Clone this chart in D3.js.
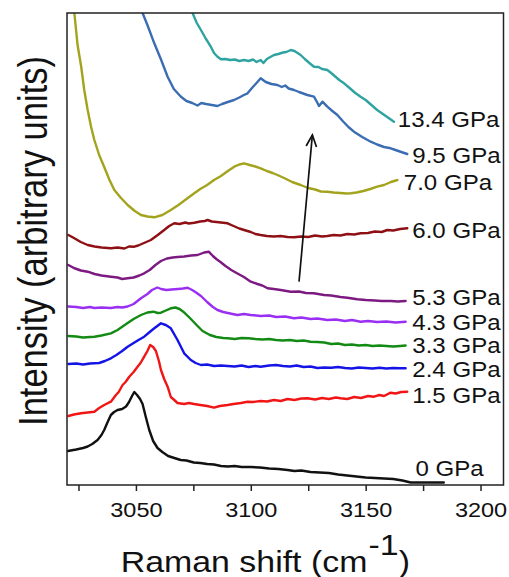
<!DOCTYPE html>
<html>
<head>
<meta charset="utf-8">
<script src="https://cdn.jsdelivr.net/npm/d3@7"></script>
<style>
  html, body { margin: 0; padding: 0; background: #fff; }
  svg { display: block; }
  text { font-family: "Liberation Sans", Arial, sans-serif; fill: #111; }
</style>
</head>
<body>
<div id="chart"></div>
<script>
// ---------- DATA (Raman shift in cm^-1, intensity in arbitrary units) ----------
const xTicks = [3050, 3100, 3150, 3200];
const xMinorTicks = [3025, 3075, 3125, 3175];

const s0GPa = [[3020.4,34],[3024,35.5],[3027,37],[3029,38.5],[3031,41],[3033.3,45],[3035,50],[3036.2,55],[3037.5,62],[3039.1,70],[3040.5,73],[3042,75],[3044,76],[3045.7,78.5],[3047,83],[3048.3,89],[3049.3,93],[3050.5,90],[3051.8,86],[3052.9,81],[3054.3,68],[3055.8,55],[3057.5,44],[3059.4,37],[3061.5,33],[3064,29],[3066.7,27],[3069.5,25],[3072,24.5],[3075.2,22.5],[3078,22],[3081,21],[3084,20.5],[3087,19],[3090,18.5],[3093,19],[3096,18],[3100,18],[3104,17.5],[3108,16.5],[3112,16],[3116,15],[3119,14],[3122,14.5],[3126,13],[3130,12.5],[3134,12],[3138,10.5],[3142,9.5],[3146,8.5],[3150,7.5],[3154,7],[3158,6.5],[3162,6],[3166,4.5],[3169.6,2.5],[3184,2.5]];

const s1_5GPa = [[3020.6,69],[3023,70.5],[3026.1,71.7],[3029,72.5],[3031.9,73.3],[3034,77],[3036.2,80],[3039.1,83.3],[3041.3,90],[3042.5,93],[3044.2,100],[3045.5,103],[3047.1,108.3],[3049,113],[3050.7,118.3],[3052,122],[3053.6,128.3],[3055,134],[3056.2,140],[3057.5,138],[3058.7,134],[3060,124],[3060.9,115],[3062.3,106],[3063.8,98.3],[3065.2,88],[3066.7,85],[3068.1,82],[3071,81],[3073,82],[3075.3,81],[3078,80],[3081,79],[3084,77.3],[3086.5,79],[3089.9,80],[3092.5,81],[3095.7,82],[3098.6,83.3],[3101,83],[3104.3,84],[3107,83.5],[3110.1,85],[3113,84],[3116,86],[3119,85],[3122,86.5],[3124.7,86.7],[3128,85.5],[3131,87],[3134,86],[3137,87.5],[3139.1,86.7],[3142,86],[3145,88],[3148,87],[3151,89],[3153.6,88.3],[3156,90],[3158,89],[3160.9,92.3],[3163,91.5],[3165.5,93],[3168.1,93.3]];

const s2_4GPa = [[3020.6,121],[3024,121.5],[3027,120.5],[3030,121.5],[3031.9,121.7],[3034,122],[3036.5,124],[3039.1,126.7],[3041.5,130],[3044,134],[3046.4,138.3],[3049,142],[3051.5,145.5],[3053.6,148.3],[3056,153],[3058,156.7],[3060.9,161.7],[3063,160],[3065.2,156.7],[3068.1,145],[3071,131.7],[3073.9,125],[3076,122],[3078.3,120],[3081,120.5],[3084,119],[3087,119.5],[3089.9,119],[3093,118.5],[3096,119.5],[3099,118],[3102,119],[3104.3,118.3],[3108,119.5],[3111,120],[3114,119],[3117,118.5],[3120,119.5],[3123,118],[3126,118.5],[3129,117],[3132,117.5],[3135,117.3],[3138,118],[3141,117],[3144,116.5],[3147,117.5],[3150,117],[3153,116.5],[3156,117.3],[3159,116.5],[3162,117],[3165,116.7],[3167.4,116.7]];

const s3_3GPa = [[3020.6,149],[3024,148.5],[3027,147.5],[3030,148],[3031.9,148.3],[3035,149.5],[3039.1,151.7],[3042,155],[3044.5,159],[3046.4,162],[3049,166],[3052.2,170],[3055,172.5],[3057.6,173.3],[3059.5,172],[3060.9,172.3],[3063,174.5],[3065.2,176.7],[3067.2,177.5],[3069,176],[3070.6,173.3],[3073.5,167],[3076.4,160],[3079,154],[3082.2,150],[3085,148],[3088,147],[3090,146.7],[3093,146],[3096,147],[3099,146.7],[3102,146],[3105,145.5],[3108,146],[3111,145],[3114,144.5],[3117,145],[3120,144],[3123,144.5],[3126,143.3],[3129,143],[3132,142.5],[3135,141],[3138,141.5],[3141,140],[3144,140.5],[3147,139.5],[3150,140],[3153,139],[3156,139.5],[3159,139],[3162,138.5],[3165,139],[3167.4,139.5]];

const s4_3GPa = [[3020.6,178.5],[3024,178],[3027,177],[3030,178],[3031.9,177],[3035,177.5],[3039.1,177],[3042,178],[3044,177.5],[3046.4,178.5],[3049,181],[3052.2,186.7],[3055,191],[3057,195],[3059.3,197.5],[3061,196],[3063.2,195],[3065.5,195.5],[3068.3,196],[3070.5,196.5],[3072.5,197.3],[3074.5,195],[3076.5,192],[3078.3,189],[3081,183],[3083.5,178],[3085.5,175],[3088,173],[3091,171.5],[3094.2,170],[3097,171],[3100,170],[3104.3,169],[3108,169.5],[3111,168],[3115,168.5],[3118.8,166.7],[3122,167.5],[3126,166],[3129,166.5],[3133.3,165],[3137,165.5],[3141,164],[3144,165],[3147.8,163.3],[3151,164],[3155,163],[3159,163.5],[3163,162.5],[3167.4,163.3]];

const s5_3GPa = [[3020.6,220],[3023,217],[3026,214.5],[3029,213.3],[3032,211],[3035,209.5],[3039.1,208.3],[3042,207.5],[3044,206],[3046.4,206.7],[3049,207.5],[3051.5,209.5],[3053.6,211.7],[3056,215],[3058.5,220],[3060.9,224],[3063.5,226.5],[3066,227.5],[3068.1,228],[3071,228.5],[3074,229.5],[3076.8,230],[3079.7,232.5],[3081.7,233.3],[3083.5,229],[3085,226],[3086.8,223],[3089,219],[3091.5,215],[3094.2,211.5],[3097,208],[3100,203.3],[3102.9,201],[3105,199.5],[3107.3,196.7],[3110,196],[3113,195],[3117.4,193.3],[3121,193.5],[3124,192],[3127.4,191.7],[3131.9,190],[3135,189.5],[3139,188],[3142,187.3],[3146.4,185.7],[3150,185],[3154,184.5],[3157,184],[3160.9,184],[3164,183.5],[3167.4,184]];

const s6_0GPa = [[3020.6,250],[3023,247],[3026,243],[3029,240],[3032,238.5],[3035,237.5],[3039.1,236.7],[3042,237.5],[3045,236.5],[3047,238.5],[3049.3,238.3],[3051,239.5],[3053.5,242],[3056.5,245],[3059.5,250],[3062.3,255],[3064.5,259],[3066.7,261.7],[3069,261],[3071.5,262.5],[3073,261.5],[3075.4,262.3],[3078,263.5],[3080,264],[3081.2,265],[3083,263.5],[3085,263],[3087,262.5],[3089.9,261.7],[3092.5,259],[3095,256.5],[3097.1,255],[3100,253],[3102,251],[3104.3,250],[3107,249],[3110,248.5],[3113,249],[3116,248],[3118.8,247.7],[3122,248.5],[3125,248],[3128,249.5],[3131,248.5],[3133.3,249],[3136,250],[3139,249.5],[3142,251],[3145,250.5],[3147.8,251.7],[3151,252],[3154,253.5],[3157,253],[3159.4,255],[3162,254.5],[3165,256],[3168.1,256.7]];

const s7_0GPa = [[3022.3,500],[3023.2,472],[3024.6,440],[3026.2,418],[3027.5,395],[3029,375],[3030.5,358],[3031.9,345],[3034,330],[3036.2,318],[3038.5,305],[3040.6,295],[3043.5,287],[3046.4,280],[3049.5,274],[3052.2,270],[3055,268.5],[3058,267.7],[3061.5,270],[3065.2,275],[3068.5,280],[3072,286],[3075.4,291.7],[3078,296],[3081,300],[3084,305],[3087,309],[3090,314],[3092.8,318.3],[3095,320.5],[3097.1,321.7],[3099.5,320],[3102,318.5],[3104.3,316.7],[3107,314],[3109.5,312],[3111.6,310],[3114.5,307],[3118,303],[3121.7,300],[3125,297],[3128,295.5],[3130.5,293.5],[3133.3,293.3],[3136,292.5],[3139,292],[3141.5,291.5],[3143.5,291.7],[3146,292.5],[3149,294],[3152,296],[3155,298.3],[3158,300],[3161,303],[3163.8,305]];

const s9_5GPa = [[3051,510],[3052.9,472],[3055,460],[3058,441.7],[3061,425],[3063.8,408.3],[3066.5,396],[3069.6,388.3],[3072,384],[3074.5,382],[3076.8,379.5],[3078.5,382],[3080.5,381],[3083,380],[3085.5,379],[3087.5,381],[3090,383],[3092.7,385],[3095,387.5],[3097,390],[3098.6,391.7],[3100.5,397],[3102.5,402],[3104.3,406.7],[3106.5,403],[3109,401],[3111.6,400],[3113.5,398],[3115,399.5],[3116.5,396.5],[3118.8,395],[3121,393],[3124.6,390],[3127.5,388.3],[3128.8,383],[3129.7,379],[3131.2,383.3],[3133.3,378.3],[3135.5,374],[3137.7,370],[3140,364],[3142.5,358],[3144.9,353.3],[3148.5,348],[3152.2,343.3],[3155,340.5],[3158,338],[3160.9,336.7],[3163,335],[3165.5,333],[3168.1,331]];

const s13_4GPa = [[3073,510],[3074.7,471.7],[3076.5,462],[3078.3,455],[3080.5,446],[3082.6,438.3],[3084,432],[3085.5,428.3],[3087,425.7],[3089,426],[3091,425],[3093,425.5],[3095,424],[3097.1,425],[3099,424],[3101,425.5],[3102.5,423],[3104.3,425],[3105.5,422],[3107,426],[3108.5,428],[3110.1,430],[3112,431],[3114,432.5],[3115.5,433],[3117.4,435],[3119,434],[3121.7,430],[3123.5,426],[3125.5,422],[3127.5,418.3],[3129.5,418],[3131,416],[3133.3,415],[3135,412],[3137,408],[3138.5,405],[3140.6,401.7],[3143,397],[3145.5,392],[3147.8,388.3],[3150,385],[3152.5,380],[3155,375],[3157.5,371],[3160,367],[3162.3,363.3]];

const seriesNames  = ["0 GPa", "1.5 GPa", "2.4 GPa", "3.3 GPa", "4.3 GPa", "5.3 GPa", "6.0 GPa", "7.0 GPa", "9.5 GPa", "13.4 GPa"];
const seriesData   = [s0GPa, s1_5GPa, s2_4GPa, s3_3GPa, s4_3GPa, s5_3GPa, s6_0GPa, s7_0GPa, s9_5GPa, s13_4GPa];
const seriesColors = ["#111111", "#f01616", "#1414e6", "#138a13", "#9a2ef2", "#7c1a82", "#8e1014", "#a3a31e", "#3b6db3", "#2ea3a0"];
// label anchor (Raman shift, intensity) for each series name
const labelShift     = [3171.7, 3170.3, 3170.3, 3170.3, 3170.3, 3170.3, 3170.3, 3166.6, 3170.3, 3164.0];
const labelIntensity = [9, 81.7, 108.3, 132.3, 155, 180, 247, 295, 322.3, 358.3];
// pressure arrow (from, to) in data units
const arrowFrom = [3121.0, 203.3];
const arrowTo   = [3126.8, 350];

// ---------- LAYOUT ----------
const W = 509, H = 577;
const plot = { left: 67, right: 503.5, top: 13, bottom: 485 };
const SX = 1.12; // horizontal glyph stretch of the reference

const x = d3.scaleLinear().domain([3020, 3210]).range([plot.left, plot.right]);
const y = d3.scaleLinear().domain([0, 472]).range([plot.bottom, plot.top]);

const svg = d3.select("#chart").append("svg")
  .attr("width", W).attr("height", H)
  .style("background", "#fff");

const defs = svg.append("defs");
defs.append("clipPath").attr("id", "plotclip")
  .append("rect")
  .attr("x", plot.left).attr("y", plot.top)
  .attr("width", plot.right - plot.left).attr("height", plot.bottom - plot.top);

// open V arrowhead, pointing along +x (orient auto aligns it with the line)
defs.append("marker")
  .attr("id", "arrowhead")
  .attr("viewBox", "0 0 14 14")
  .attr("refX", 12.5).attr("refY", 7)
  .attr("markerWidth", 14).attr("markerHeight", 14)
  .attr("markerUnits", "userSpaceOnUse")
  .attr("orient", "auto")
  .append("path")
  .attr("d", "M1,1.8 L12.5,7 L1,12.2")
  .attr("fill", "none").attr("stroke", "#111").attr("stroke-width", 1.7)
  .attr("stroke-linejoin", "miter");

// curves
const line = d3.line().x(d => x(d[0])).y(d => y(d[1]));
const gLines = svg.append("g").attr("clip-path", "url(#plotclip)");
seriesData.forEach((s, i) => {
  gLines.append("path")
    .datum(s)
    .attr("d", line)
    .attr("fill", "none")
    .attr("stroke", seriesColors[i])
    .attr("stroke-width", 2.4)
    .attr("stroke-linejoin", "round")
    .attr("stroke-linecap", "round");
});

// arrow
svg.append("line")
  .attr("x1", x(arrowFrom[0])).attr("y1", y(arrowFrom[1]))
  .attr("x2", x(arrowTo[0])).attr("y2", y(arrowTo[1]))
  .attr("stroke", "#111").attr("stroke-width", 1.7)
  .attr("marker-end", "url(#arrowhead)");

// frame
svg.append("rect")
  .attr("x", plot.left).attr("y", plot.top)
  .attr("width", plot.right - plot.left).attr("height", plot.bottom - plot.top)
  .attr("fill", "none").attr("stroke", "#222").attr("stroke-width", 1.5);

// x axis (major + minor)
const axisMajor = d3.axisBottom(x).tickValues(xTicks).tickSizeInner(6).tickSizeOuter(0).tickPadding(11).tickFormat(d3.format("d"));
const axisMinor = d3.axisBottom(x).tickValues(xMinorTicks).tickSizeInner(6).tickSizeOuter(0).tickFormat("");
const gMinor = svg.append("g").attr("transform", `translate(0,${plot.bottom})`).call(axisMinor);
const gMajor = svg.append("g").attr("transform", `translate(0,${plot.bottom})`).call(axisMajor);
[gMinor, gMajor].forEach(g => {
  g.select(".domain").remove();
  g.selectAll(".tick line").attr("stroke", "#222").attr("stroke-width", 1.5);
});
gMajor.selectAll(".tick text")
  .attr("fill", "#111")
  .style("font-size", "21px")
  .style("font-family", "'Liberation Sans', Arial, sans-serif")
  .attr("transform", `scale(${SX},1)`);

// series labels
seriesNames.forEach((name, i) => {
  svg.append("text")
    .attr("transform", `translate(${x(labelShift[i])},${y(labelIntensity[i])}) scale(${SX},1)`)
    .style("font-size", "21.5px")
    .text(name);
});

// x axis title
const title = svg.append("text")
  .attr("transform", `translate(120.7,571.7) scale(1.13,1)`)
  .style("font-size", "30px");
title.append("tspan").text("Raman shift (cm");
title.append("tspan").attr("dy", -17).attr("dx", 1).text("-1");
title.append("tspan").attr("dy", 17).text(")");

// y axis title
svg.append("text")
  .attr("transform", `translate(47,241) scale(1.18,1) rotate(-90)`)
  .attr("text-anchor", "middle")
  .style("font-size", "34.5px")
  .text("Intensity (arbitrary units)");
</script>
</body>
</html>
